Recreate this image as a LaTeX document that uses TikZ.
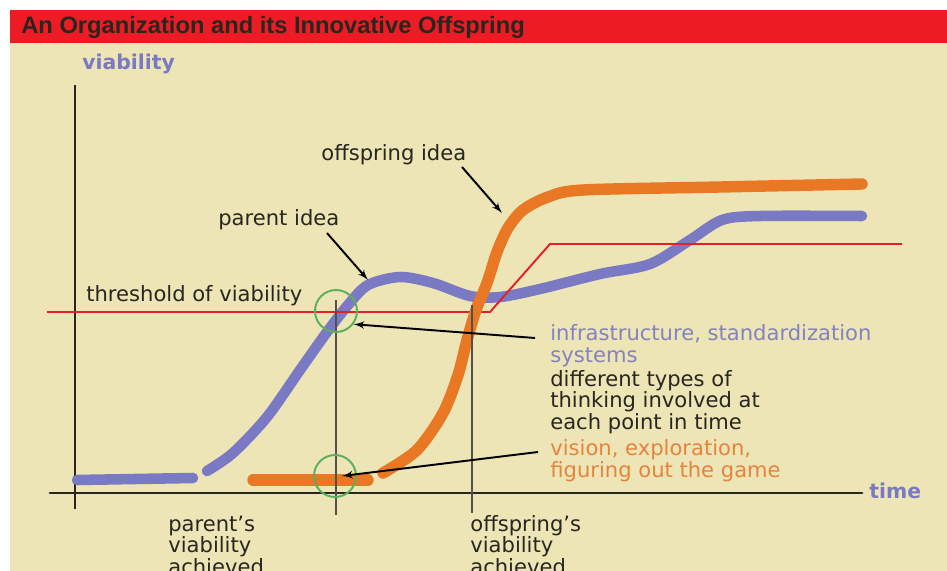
\documentclass[tikz,border=0pt]{standalone}
\usepackage{fontspec}
\setmainfont{DejaVu Sans}
\newfontfamily\titlefont{Liberation Sans}
\usetikzlibrary{arrows, positioning, calc}
\definecolor{paper}{RGB}{237,229,181}
\definecolor{banner}{RGB}{237,28,36}
\definecolor{ink}{RGB}{40,38,32}
\definecolor{lilac}{RGB}{122,122,196}
\definecolor{lilactext}{RGB}{132,130,192}
\definecolor{amber}{RGB}{232,120,36}
\definecolor{ambertext}{RGB}{230,132,62}
\definecolor{mint}{RGB}{92,176,92}
\definecolor{limit}{RGB}{228,32,40}
\tikzset{lbl/.style={anchor=base west, align=left, inner sep=0pt,
             font=\fontsize{12}{12}\selectfont, text=ink},
         axislbl/.style={anchor=base west, inner sep=0pt,
             font=\bfseries\fontsize{11.6}{12}\selectfont, text=lilac},
         axis/.style={draw=ink, line width=1.7pt},
         parentline/.style={draw=lilac, line width=6pt, line cap=round},
         offline/.style={draw=amber, line width=6.5pt, line cap=round},
         threshold/.style={draw=limit, line width=1.1pt},
         guide/.style={draw=ink!80, line width=0.8pt},
         marker/.style={draw=mint, circle, line width=1.1pt, minimum size=0.84cm},
         pointer/.style={->, >=latex', line width=1.1pt, draw=black}}

\begin{document}
\begin{tikzpicture}[x=0.02cm, y=-0.02cm]
    \useasboundingbox (0,0) rectangle (947,571);
    \clip (0,0) rectangle (947,571);
    \fill[white] (0,0) rectangle (947,571);
    \fill[paper] (10,43) rectangle (947,571);
    \fill[banner] (10,10) rectangle (947,43);
    \node[anchor=base west, inner sep=0pt, text=ink,
          font=\titlefont\bfseries\fontsize{13.5}{14}\selectfont] (title) at (21,34)
          {An Organization and its Innovative Offspring};

    % axes
    \draw[axis] (75,85) -- (75,509);
    \draw[axis, line cap=round] (50,493) -- (862,493);
    \node[axislbl] (ylbl) at (82,70) {viability};
    \node[axislbl] (xlbl) at (869,498) {time};

    % parent idea
    \draw[parentline] (77,480) -- (193,478);
    \draw[parentline] plot[smooth, tension=0.5] coordinates {(207,471) (233,453) (267,417)
        (300,370) (327,332) (348,305) (368,285) (400,277) (433,283) (470,296) (500,297)
        (540,289) (600,274) (650,264) (690,240) (722,220) (760,216) (862,216)};

    % threshold of viability
    \draw[threshold] (47,312) -- (490,312) -- (550,244) -- (902,244);

    % offspring idea
    \draw[offline] (253,480) -- (368,480);
    \draw[offline] plot[smooth, tension=0.5] coordinates {(383,473) (417,450) (443,413)
        (458,375) (467,340) (476,310) (487,283) (497,252) (508,228) (523,210) (548,197)
        (583,190) (720,187) (862,184)};

    % moments of viability
    \draw[guide] (336,300) -- (336,515);
    \draw[guide] (472,305) -- (472,513);
    \node[marker] (circ1) at (336,311) {};
    \node[marker] (circ2) at (335,476) {};

    % labels (multi-line ones sit on the baseline of their last line)
    \node[lbl] (offlbl) at (321,160) {offspring idea};
    \node[lbl] (parentlbl) at (218,225) {parent idea};
    \node[lbl] (thrlbl) at (86,301) {threshold of viability};
    \node[lbl, text=lilactext] (infra) at (550,362) {infrastructure, standardization\\systems};
    \node[lbl] (types) at (550,429) {different types of\\thinking involved at\\each point in time};
    \node[lbl, text=ambertext] (vision) at (550,477) {vision, exploration,\\figuring out the game};
    \node[lbl] (parentok) at (168,574) {parent’s\\viability\\achieved};
    \node[lbl] (offok) at (470,574) {offspring’s\\viability\\achieved};

    % arrows
    \coordinate (offtail) at (462,167);
    \coordinate (offhead) at (502,213);
    \coordinate (partail) at (327,233);
    \coordinate (parhead) at (368,280);
    \coordinate (infratail) at (535,338);
    \coordinate (visiontail) at (538,452);
    \draw[pointer] (offtail) -- (offhead);
    \draw[pointer] (partail) -- (parhead);
    \draw[pointer] (infratail) -- (circ1.-37);
    \draw[pointer] (visiontail) -- ($(circ2.center)+(7,0)$);
\end{tikzpicture}
\end{document}
